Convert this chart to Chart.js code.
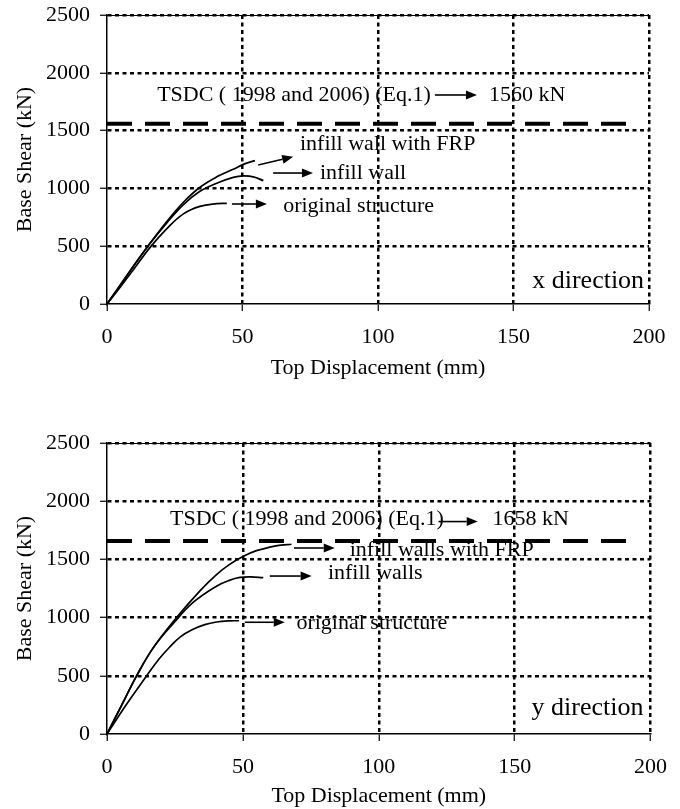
<!DOCTYPE html>
<html><head><meta charset="utf-8">
<script src="https://cdn.jsdelivr.net/npm/chart.js@4"></script>
<style>
html,body{margin:0;padding:0;background:#fff;}
#wrap{position:relative;width:680px;height:809px;background:#fff;}
canvas{position:absolute;left:0;}
</style></head><body>
<div id="wrap">
<canvas id="c1" width="680" height="380" style="top:0px"></canvas>
<canvas id="c2" width="680" height="429" style="top:380px"></canvas>
</div>
<script>
// ---------- data ----------
const xTickStep = 50;
const yTickStep = 500;
const xRange = [0, 200];
const yRange = [0, 2500];

// x direction
const xOrigDisp  = [0, 5, 10, 15.9, 22, 28.2, 34.3, 40.5, 44.2];
const xOrigShear = [0, 150, 305, 490, 650, 780, 845, 868, 871];
const xWallDisp  = [0, 5, 10, 15.9, 22, 28.2, 34.3, 40.5, 46.6, 50.3, 54, 57.7];
const xWallShear = [0, 168, 335, 525, 700, 860, 975, 1045, 1095, 1108, 1100, 1067];
const xFrpDisp   = [0, 5, 10, 15.9, 22, 28.2, 34.3, 40.5, 46.6, 50.3, 54.6];
const xFrpShear  = [0, 165, 335, 525, 712, 880, 1010, 1100, 1165, 1208, 1240];
const xCode = 1560;
const xCodeLineDisp = [0, 196];

// y direction
const yOrigDisp  = [0, 7.2, 14.6, 19, 23, 27, 31.7, 36, 40.3, 45, 48.6];
const yOrigShear = [0, 255, 500, 640, 745, 835, 900, 940, 962, 972, 973];
const yWallDisp  = [0, 5.5, 10.9, 17, 24.4, 31.7, 40.3, 45, 48.9, 53, 57.5];
const yWallShear = [0, 250, 500, 740, 950, 1130, 1270, 1320, 1345, 1350, 1343];
const yFrpDisp   = [0, 5.5, 10.9, 17, 25.6, 34.2, 40.3, 45, 50, 55, 60, 64, 67.9];
const yFrpShear  = [0, 255, 500, 740, 1000, 1230, 1370, 1455, 1525, 1575, 1605, 1622, 1630];
const yCode = 1658;
const yCodeLineDisp = [0, 194.5];

const xTitle = 'Top Displacement (mm)';
const yTitle = 'Base Shear (kN)';

// ---------- helpers ----------
const FONT = "'Times New Roman', 'Liberation Serif', 'DejaVu Serif', serif";
Chart.defaults.font.family = FONT;
Chart.defaults.color = '#000';

const pts = (xs, ys) => xs.map((v, i) => ({x: v, y: ys[i]}));

const annotPlugin = {
  id: 'annot',
  afterDatasetsDraw(chart, args, opts) {
    const {ctx, chartArea} = chart;
    const xs = chart.scales.x, ys = chart.scales.y;
    ctx.save();
    ctx.fillStyle = '#000';
    ctx.strokeStyle = '#000';
    if (opts.frameTop) {
      ctx.lineWidth = 1;
      ctx.beginPath();
      ctx.moveTo(chartArea.left, chartArea.top + 0.5);
      ctx.lineTo(chartArea.right, chartArea.top + 0.5);
      ctx.stroke();
    }
    (opts.texts || []).forEach(t => {
      ctx.font = (t.size || 22) + 'px ' + FONT;
      ctx.textAlign = t.align || 'left';
      ctx.textBaseline = 'middle';
      ctx.fillText(t.text, xs.getPixelForValue(t.x), ys.getPixelForValue(t.y));
    });
    (opts.arrows || []).forEach(a => {
      const x1 = xs.getPixelForValue(a.x1), y1 = ys.getPixelForValue(a.y1);
      const x2 = xs.getPixelForValue(a.x2), y2 = ys.getPixelForValue(a.y2);
      const ang = Math.atan2(y2 - y1, x2 - x1);
      const hl = 11, hw = 4.5;
      const bx = x2 - hl * Math.cos(ang), by = y2 - hl * Math.sin(ang);
      ctx.lineWidth = 1.6;
      ctx.beginPath(); ctx.moveTo(x1, y1); ctx.lineTo(bx, by); ctx.stroke();
      ctx.beginPath();
      ctx.moveTo(x2, y2);
      ctx.lineTo(bx + hw * Math.sin(ang), by - hw * Math.cos(ang));
      ctx.lineTo(bx - hw * Math.sin(ang), by + hw * Math.cos(ang));
      ctx.closePath(); ctx.fill();
    });
    ctx.restore();
  }
};

function curve(data) {
  return {data, borderColor: '#000', borderWidth: 1.7, pointRadius: 0,
          tension: 0.4, fill: false};
}

function makeChart(id, cfg) {
  const gridColor = ctx => (ctx.tick && ctx.tick.value === 0) ? 'rgba(0,0,0,0)' : '#000';
  return new Chart(document.getElementById(id), {
    type: 'line',
    data: {
      datasets: [
        curve(pts(cfg.orig[0], cfg.orig[1])),
        curve(pts(cfg.wall[0], cfg.wall[1])),
        curve(pts(cfg.frp[0], cfg.frp[1])),
        {data: pts(cfg.codeLine, cfg.codeLine.map(() => cfg.code)), borderColor: '#000',
         borderWidth: 4, borderDash: [25, 13], pointRadius: 0, fill: false, tension: 0}
      ]
    },
    options: {
      responsive: false,
      animation: false,
      devicePixelRatio: 1,
      layout: {padding: {left: 0, right: cfg.padRight, top: cfg.padTop, bottom: cfg.padBottom}},
      plugins: {
        legend: {display: false},
        tooltip: {enabled: false},
        annot: cfg.annot
      },
      scales: {
        x: {
          type: 'linear', min: xRange[0], max: xRange[1],
          ticks: {stepSize: xTickStep, font: {size: 22}, color: '#000', padding: 13,
                  maxRotation: 0, callback: v => String(v)},
          grid: {color: gridColor, lineWidth: 2.5, tickLength: 7, tickColor: '#000', tickWidth: 1.2},
          border: {display: true, color: '#000', width: 1.5, dash: [4, 3.5]},
          title: {display: true, text: xTitle, color: '#000', font: {size: 22, lineHeight: 1}, padding: 0},
          afterFit: s => { s.height = cfg.xAxisH; }
        },
        y: {
          type: 'linear', min: yRange[0], max: yRange[1],
          ticks: {stepSize: yTickStep, font: {size: 22}, color: '#000', padding: 10,
                  callback: v => String(v)},
          grid: {color: gridColor, lineWidth: 2.5, tickLength: 7, tickColor: '#000', tickWidth: 1.2},
          border: {display: true, color: '#000', width: 1.5, dash: [4, 3.5]},
          title: {display: true, text: yTitle, color: '#000', font: {size: 22, lineHeight: 1}, padding: {top: 14, bottom: 0}},
          afterFit: s => { s.width = 107; s.paddingTop = 0; s.paddingBottom = 0; }
        }
      }
    },
    plugins: [annotPlugin]
  });
}

makeChart('c1', {
  orig: [xOrigDisp, xOrigShear], wall: [xWallDisp, xWallShear], frp: [xFrpDisp, xFrpShear],
  code: xCode, codeLine: xCodeLineDisp,
  padRight: 31, padTop: 15, padBottom: 1, xAxisH: 75,
  annot: {
    frameTop: true,
    texts: [
      {text: 'TSDC ( 1998 and 2006) (Eq.1)', x: 18.5, y: 1808},
      {text: xCode + ' kN', x: 141, y: 1808},
      {text: 'infill wall with FRP', x: 71.2, y: 1385},
      {text: 'infill wall', x: 78.6, y: 1130},
      {text: 'original structure', x: 65, y: 850},
      {text: 'x direction', x: 198.2, y: 195, align: 'right', size: 26}
    ],
    arrows: [
      {x1: 121, y1: 1808, x2: 136.5, y2: 1808},
      {x1: 55.8, y1: 1202, x2: 68.7, y2: 1274},
      {x1: 61.3, y1: 1133, x2: 76, y2: 1133},
      {x1: 46.1, y1: 865, x2: 59, y2: 865}
    ]
  }
});

makeChart('c2', {
  orig: [yOrigDisp, yOrigShear], wall: [yWallDisp, yWallShear], frp: [yFrpDisp, yFrpShear],
  code: yCode, codeLine: yCodeLineDisp,
  padRight: 29, padTop: 63, padBottom: 2, xAxisH: 73,
  annot: {
    frameTop: true,
    texts: [
      {text: 'TSDC ( 1998 and 2006) (Eq.1)', x: 23.2, y: 1845},
      {text: yCode + ' kN', x: 141.9, y: 1845},
      {text: 'infill walls with FRP', x: 89.3, y: 1581},
      {text: 'infill walls', x: 81.3, y: 1383},
      {text: 'original structure', x: 69.7, y: 956},
      {text: 'y direction', x: 197.4, y: 223, align: 'right', size: 26}
    ],
    arrows: [
      {x1: 122, y1: 1825, x2: 136.4, y2: 1825},
      {x1: 68.8, y1: 1598, x2: 83.8, y2: 1598},
      {x1: 59.9, y1: 1357, x2: 75.3, y2: 1357},
      {x1: 50.7, y1: 960, x2: 65.4, y2: 960}
    ]
  }
});
</script>
</body></html>
